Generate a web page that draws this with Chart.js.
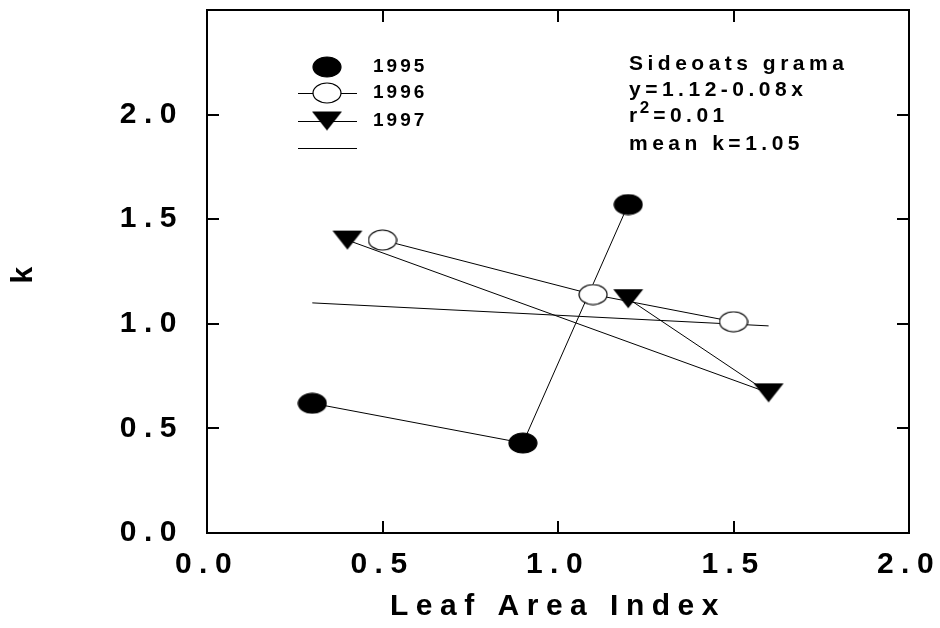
<!DOCTYPE html>
<html>
<head>
<meta charset="utf-8">
<script src="https://cdn.jsdelivr.net/npm/chart.js@4.4.1/dist/chart.umd.min.js"></script>
<style>
  body { margin: 0; background: #fff; }
</style>
</head>
<body>
<canvas id="chart" width="940" height="628"></canvas>
<script>
// values
var lai1995 = [0.3, 0.9, 1.2];
var k1995 = [0.62, 0.43, 1.57];
var lai1996 = [0.5, 1.1, 1.5];
var k1996 = [1.40, 1.14, 1.01];
var lai1997 = [0.4, 1.6, 1.2];
var k1997 = [1.40, 0.67, 1.12];
var fitLai = [0.3, 1.6];
var fitK = [1.10, 0.99];

var seriesNames = ['1995', '1996', '1997'];
var xTicks = [0.0, 0.5, 1.0, 1.5, 2.0];
var yTicks = [0.0, 0.5, 1.0, 1.5, 2.0];
var noteLines = ['Sideoats grama', 'y=1.12-0.08x', 'r', '2', '=0.01', 'mean k=1.05'];

var FONT = '"Liberation Sans", Arial, sans-serif';

function toPoints(xs, ys) {
    return xs.map(function(x, i) { return {x: x, y: ys[i]}; });
}

function makeEllipse(filled) {
    var c = document.createElement('canvas');
    c.width = 30;
    c.height = 22;
    var g = c.getContext('2d');
    g.beginPath();
    g.ellipse(15, 11, 14, 10, 0, 0, Math.PI * 2);
    g.fillStyle = filled ? '#000' : '#fff';
    g.fill();
    g.lineWidth = 1.2;
    g.strokeStyle = '#000';
    g.stroke();
    return c;
}

function makeTriangle() {
    var c = document.createElement('canvas');
    c.width = 32;
    c.height = 21;
    var g = c.getContext('2d');
    g.beginPath();
    g.moveTo(1, 1);
    g.lineTo(31, 1);
    g.lineTo(16, 20);
    g.closePath();
    g.fillStyle = '#000';
    g.fill();
    return c;
}

var dotImg = makeEllipse(true);
var openImg = makeEllipse(false);
var triImg = makeTriangle();

function setSpacing(chart) {
    chart.ctx.letterSpacing = '7.5px';
}

var framePlugin = {
    id: 'frame',
    beforeUpdate: setSpacing,
    beforeLayout: setSpacing,
    beforeDraw: setSpacing,
    afterDraw: function(chart) {
        var ctx = chart.ctx;
        var a = chart.chartArea;
        var xs = chart.scales.x;
        var ys = chart.scales.y;
        var TICK = 12;

        ctx.save();
        ctx.strokeStyle = '#000';
        ctx.lineWidth = 2;
        ctx.strokeRect(a.left, a.top, a.right - a.left, a.bottom - a.top);
        ctx.beginPath();
        xTicks.forEach(function(v) {
            if (v <= xs.min || v >= xs.max) return;
            var px = Math.round(xs.getPixelForValue(v));
            ctx.moveTo(px, a.bottom);
            ctx.lineTo(px, a.bottom - TICK);
            ctx.moveTo(px, a.top);
            ctx.lineTo(px, a.top + TICK);
        });
        yTicks.forEach(function(v) {
            if (v <= ys.min || v >= ys.max) return;
            var py = Math.round(ys.getPixelForValue(v));
            ctx.moveTo(a.left, py);
            ctx.lineTo(a.left + TICK, py);
            ctx.moveTo(a.right, py);
            ctx.lineTo(a.right - TICK, py);
        });
        ctx.stroke();

        // legend
        var lx = a.left + 120;
        var rows = [
            {img: dotImg, y: 67, line: false, label: seriesNames[0]},
            {img: openImg, y: 93, line: true, label: seriesNames[1]},
            {img: triImg, y: 121, line: true, label: seriesNames[2]},
            {img: null, y: 148, line: true, label: ''}
        ];
        ctx.lineWidth = 1;
        ctx.font = 'bold 19px ' + FONT;
        ctx.letterSpacing = '3px';
        ctx.fillStyle = '#000';
        ctx.textBaseline = 'middle';
        ctx.textAlign = 'left';
        rows.forEach(function(r) {
            if (r.line) {
                ctx.beginPath();
                ctx.moveTo(lx - 29, r.y + 0.5);
                ctx.lineTo(lx + 30, r.y + 0.5);
                ctx.stroke();
            }
            if (r.img) {
                ctx.drawImage(r.img, lx - r.img.width / 2, r.y - r.img.height / 2);
            }
            if (r.label) {
                ctx.fillText(r.label, lx + 46, r.y);
            }
        });

        // note
        var nx = 629;
        ctx.textBaseline = 'alphabetic';
        ctx.font = 'bold 21px ' + FONT;
        ctx.letterSpacing = '4.5px';
        ctx.fillText(noteLines[0], nx, 70);
        ctx.fillText(noteLines[1], nx, 96);
        ctx.fillText(noteLines[2], nx, 122);
        var w = ctx.measureText(noteLines[2]).width;
        ctx.font = 'bold 17px ' + FONT;
        ctx.letterSpacing = '2px';
        ctx.fillText(noteLines[3], nx + w - 2, 113);
        var w2 = ctx.measureText(noteLines[3]).width;
        ctx.font = 'bold 21px ' + FONT;
        ctx.letterSpacing = '4.5px';
        ctx.fillText(noteLines[4], nx + w + w2, 122);
        ctx.fillText(noteLines[5], nx, 150);
        ctx.restore();
    }
};

var lineStyle = {
    showLine: true,
    borderColor: '#000',
    backgroundColor: '#000',
    borderWidth: 1,
    pointRadius: 14,
    pointHoverRadius: 14
};

new Chart(document.getElementById('chart'), {
    type: 'scatter',
    data: {
        datasets: [
            Object.assign({}, lineStyle, {label: seriesNames[1], data: toPoints(lai1996, k1996), pointStyle: openImg, order: 0}),
            Object.assign({}, lineStyle, {label: seriesNames[2], data: toPoints(lai1997, k1997), pointStyle: triImg, order: 1}),
            Object.assign({}, lineStyle, {label: seriesNames[0], data: toPoints(lai1995, k1995), pointStyle: dotImg, order: 2}),
            Object.assign({}, lineStyle, {label: 'fit', data: toPoints(fitLai, fitK), pointRadius: 0, pointHoverRadius: 0, order: 3})
        ]
    },
    options: {
        responsive: false,
        animation: false,
        events: [],
        layout: {
            autoPadding: false,
            padding: {top: 10, right: 31, bottom: 0, left: 0}
        },
        plugins: {
            legend: {display: false},
            tooltip: {enabled: false}
        },
        scales: {
            x: {
                type: 'linear',
                min: 0,
                max: 2,
                afterBuildTicks: function(s) {
                    s.ticks = xTicks.map(function(v) { return {value: v}; });
                },
                afterFit: function(s) {
                    s.height = 95;
                    s.paddingLeft = 0;
                    s.paddingRight = 0;
                },
                grid: {display: false, drawTicks: false},
                border: {display: false},
                ticks: {
                    padding: 14,
                    color: '#000',
                    maxRotation: 0,
                    autoSkip: false,
                    font: {family: FONT, size: 30, weight: 'bold'},
                    callback: function(v) { return v.toFixed(1); }
                },
                title: {
                    display: true,
                    text: 'Leaf Area Index',
                    color: '#000',
                    padding: {top: 4, bottom: 3},
                    font: {family: FONT, size: 30, weight: 'bold'}
                }
            },
            y: {
                type: 'linear',
                min: 0,
                max: 2.5,
                afterBuildTicks: function(s) {
                    s.ticks = yTicks.map(function(v) { return {value: v}; });
                },
                afterFit: function(s) {
                    s.width = 207;
                    s.paddingTop = 0;
                    s.paddingBottom = 0;
                },
                grid: {display: false, drawTicks: false},
                border: {display: false},
                ticks: {
                    padding: 23,
                    color: '#000',
                    font: {family: FONT, size: 30, weight: 'bold'},
                    callback: function(v) { return v.toFixed(1); }
                },
                title: {
                    display: true,
                    text: 'k',
                    color: '#000',
                    padding: {top: 6, bottom: 4},
                    font: {family: FONT, size: 30, weight: 'bold'}
                }
            }
        }
    },
    plugins: [framePlugin]
});
</script>
</body>
</html>
